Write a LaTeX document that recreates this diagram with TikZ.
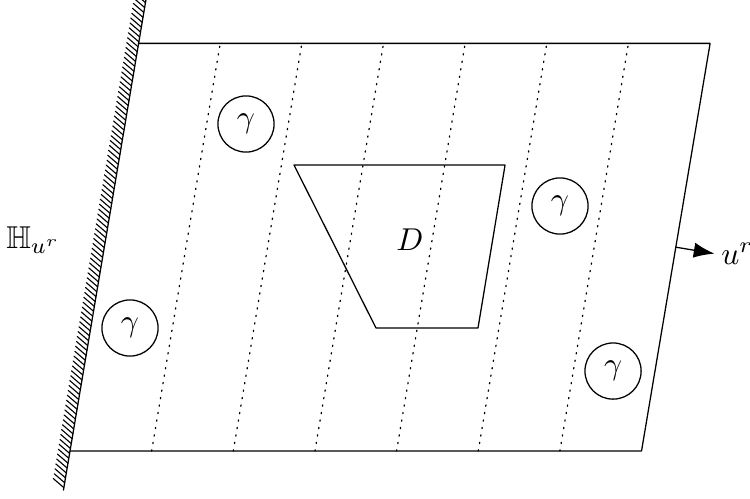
\documentclass[tikz,border=0pt]{standalone}
\usepackage{amssymb}
\usetikzlibrary{calc,arrows.meta}

\begin{document}
\begin{tikzpicture}[scale=1.06,line cap=round,line join=round,
  blob/.style={draw,circle,minimum size=0.625cm,inner sep=0pt},
  strip/.style={dotted,line width=0.4pt}]
  \useasboundingbox (-0.735,-0.494) rectangle (7.14,4.736);
  \coordinate (wa) at (-0.069,-0.41);
  \coordinate (wb) at (0.797,4.736);
  \coordinate (bl) at (0,0);
  \coordinate (br) at (6.0,0);
  \coordinate (tr) at (6.72,4.28);
  \coordinate (tl) at (0.72,4.28);
  \draw (wa) -- (wb);
  \foreach \t in {0.005,0.015,...,1}
    \draw[line width=0.35pt] ($(wa)!\t!(wb)$) -- ++(-0.11,0.095);
  \draw (tl) -- (tr) -- (br) -- (bl);
  \foreach \k in {1,...,6}
    \draw[strip] ($(bl)!\k/7!(br)$) -- ($(tl)!\k/7!(tr)$);
  \draw (2.352,3.003) -- (4.568,3.003) -- (4.284,1.292) -- (3.213,1.292) -- cycle;
  \node (dom) at (3.57,2.216) {$D$};
  \node[blob] (g1) at (1.848,3.434) {$\gamma$};
  \node[blob] (g2) at (5.145,2.573) {$\gamma$};
  \node[blob] (g3) at (5.702,0.840) {$\gamma$};
  \node[blob] (g4) at (0.630,1.292) {$\gamma$};
  \node (wall) at (-0.385,2.216) {$\mathbb{H}_{u^r}$};
  \coordinate (foot) at ($(br)!0.5!(tr)$);
  \coordinate (tip) at ($(foot)+(0.404,-0.068)$);
  \node[anchor=west,inner sep=2pt] (dir) at (tip) {$u^r$};
  \draw[-{Latex[length=2.3mm,width=1.7mm]}] (foot) -- (tip);
\end{tikzpicture}
\end{document}
